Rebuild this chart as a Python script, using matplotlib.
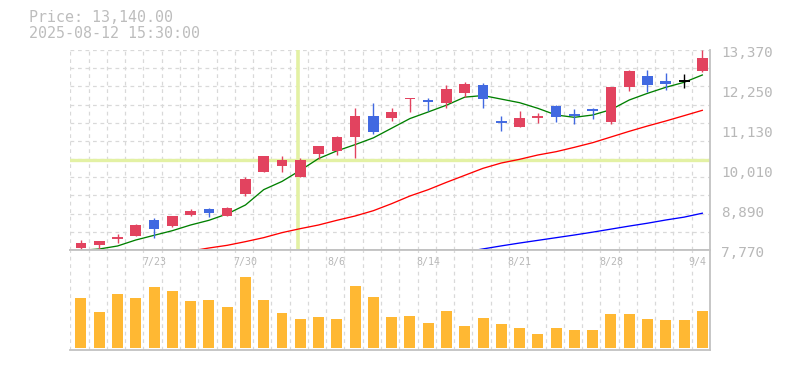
import numpy as np
import matplotlib
matplotlib.use("Agg")
import matplotlib.pyplot as plt
import matplotlib.transforms as mtransforms

# ---------------- data ----------------
tick_idx = [4, 9, 14, 19, 24, 29, 34]
tick_labels = ['7/23', '7/30', '8/6', '8/14', '8/21', '8/28', '9/4']

opens = [7835, 7910, 8100, 8162, 8610, 8442, 8750, 8918, 8731, 9347,
         9963, 10131, 9823, 10467, 10542, 10943, 11522, 11475, 11989, 11970,
         11895, 12175, 12390, 11350, 11223, 11480, 11802, 11545, 11718, 11354,
         12343, 12642, 12502, 12511, 12782]
highs = [8050, 8022, 8218, 8489, 8666, 8713, 8918, 8946, 8974, 9814,
         10402, 10402, 10337, 10682, 10962, 11746, 11877, 11746, 12035, 12035,
         12390, 12483, 12455, 11513, 11662, 11597, 11830, 11709, 11755, 12334,
         12810, 12810, 12726, 12698, 13380]
lows = [7770, 7798, 7976, 8162, 8116, 8414, 8722, 8694, 8731, 9291,
        9963, 9963, 9823, 10327, 10439, 10355, 11027, 11391, 11643, 11662,
        11737, 12063, 11755, 11102, 11223, 11326, 11354, 11307, 11447, 11307,
        12231, 12203, 12250, 12315, 12763]
closes = [7966, 8022, 8110, 8470, 8368, 8713, 8862, 8816, 8946, 9758,
          10402, 10290, 10290, 10682, 10934, 11522, 11083, 11634, 12035, 11905,
          12278, 12418, 12007, 11340, 11466, 11490, 11503, 11535, 11671, 12334,
          12782, 12399, 12427, 12511, 13140]

ma_short = [7760, 7798, 7882, 8050, 8181, 8311, 8470, 8601, 8780, 9030,
            9460, 9690, 10000, 10330, 10545, 10720, 10910, 11180, 11450, 11635,
            11825, 12050, 12095, 11995, 11895, 11737, 11550, 11485, 11550, 11700,
            11970, 12157, 12325, 12465, 12670]
ma_mid = [None] * 6 + [7740, 7826, 7901, 8004, 8116, 8256, 8368, 8470, 8601, 8722,
                       8871, 9067, 9282, 9459, 9665, 9861, 10057, 10206, 10309, 10430,
                       10523, 10645, 10775, 10934, 11093, 11242, 11382, 11531, 11681]
ma_long = [None] * 21 + [7715, 7800, 7885, 7965, 8040, 8115, 8190, 8270, 8355,
                         8440, 8520, 8610, 8690, 8800]

volumes = [150, 108, 162, 150, 183, 171, 141, 144, 123, 213,
           144, 105, 87, 93, 87, 186, 153, 93, 96, 75,
           111, 66, 90, 72, 60, 42, 60, 54, 54, 102,
           102, 87, 84, 84, 111]

price_labels = [7770, 8890, 10010, 11130, 12250, 13370]
cross_idx = 12
header_price = "Price: 13,140.00"
header_time = "2025-08-12 15:30:00"

# ---------------- style ----------------
MONO = 'DejaVu Sans Mono'
UP = '#e2435f'
DOWN = '#4169e1'
FLAT = '#000000'
GRID = '#d9d9d9'
SPINE = '#c2c2c2'
TXT = '#b8b8b8'

W, H = 785, 370
fig = plt.figure(figsize=(W / 100, H / 100), dpi=100)
ax = fig.add_axes([70 / W, (H - 250) / H, 640 / W, 200 / H])
axv = fig.add_axes([70 / W, (H - 350) / H, 640 / W, 100 / H])

n = len(closes)
x = np.arange(n)
xl = (-0.6, 34.36)

for a in (ax, axv):
    a.set_xlim(*xl)
    a.set_xticks(np.arange(n + 1) - 0.58)
    a.tick_params(length=0, labelleft=False, labelbottom=False)
    a.set_axisbelow(True)
    a.spines['left'].set_visible(False)
    for s in ('right', 'bottom', 'top'):
        a.spines[s].set_color(SPINE)
        a.spines[s].set_linewidth(1.3)
    a.grid(axis='x', color=GRID, linestyle=(0, (3, 3)), linewidth=0.9)

ax.spines['top'].set_visible(False)
ax.set_ylim(price_labels[0], price_labels[-1])
ax.set_yticks(np.linspace(price_labels[0], price_labels[-1], 12))
ax.grid(axis='y', color=GRID, linestyle=(0, (3, 3)), linewidth=0.9)

# crosshair
ax.axvline(cross_idx - 0.1, ymin=0.005, ymax=0.995, color='#e3f1a4', lw=2.6, zorder=1.5)
ax.axhline(closes[cross_idx], color='#e3f1a4', lw=2.4, zorder=1.5)

# moving averages
def plot_ma(vals, color):
    xs = [i for i, v in enumerate(vals) if v is not None]
    ys = [v for v in vals if v is not None]
    ax.plot(xs, ys, color=color, lw=0.95, zorder=2, clip_on=False)

plot_ma(ma_short, '#008000')
plot_ma(ma_mid, '#ff0000')
plot_ma(ma_long, '#0000ff')

# candles
bw = 0.58
for i in range(n):
    o, h, l, c = opens[i], highs[i], lows[i], closes[i]
    col = UP if c > o else (DOWN if c < o else FLAT)
    ax.vlines(i, l, h, color=col, lw=1.0, zorder=3)
    if abs(c - o) < 40:
        ax.hlines((o + c) / 2, i - 0.3, i + 0.3, color=col, lw=1.4, zorder=3)
    else:
        ax.bar(i, abs(c - o), bottom=min(o, c), width=bw, color=col,
               linewidth=0, zorder=3)

# right price labels
for p in price_labels:
    ax.annotate(f"{p:,}", xy=(1, p), xycoords=('axes fraction', 'data'),
                xytext=(11, -3), textcoords='offset pixels', ha='left', va='center',
                fontsize=10.4, family=MONO, color=TXT, annotation_clip=False)

# volume
axv.bar(x, volumes, width=0.6, color='#ffb833', linewidth=0, zorder=2)
axv.set_ylim(-6, 294)
axv.set_yticks([])
trans = mtransforms.blended_transform_factory(axv.transData, axv.transAxes)
for k, (ti, tl) in enumerate(zip(tick_idx, tick_labels)):
    if k == len(tick_idx) - 1:
        axv.annotate(tl, xy=(ti, 0.877), xycoords=trans, xytext=(-5, 0),
                     textcoords='offset pixels', ha='center', va='center',
                     fontsize=7.2, family=MONO, color=TXT)
    else:
        axv.text(ti, 0.877, tl, transform=trans, ha='center', va='center',
                 fontsize=7.2, family=MONO, color=TXT)

# header
fig.text(29 / W, 1 - 17.3 / H, header_price, fontsize=10.8, family=MONO,
         color='#bdbdbd', va='center', ha='left')
fig.text(29 / W, 1 - 33.3 / H, header_time, fontsize=10.8, family=MONO,
         color='#bdbdbd', va='center', ha='left')

fig.savefig('out.png', dpi=100)
